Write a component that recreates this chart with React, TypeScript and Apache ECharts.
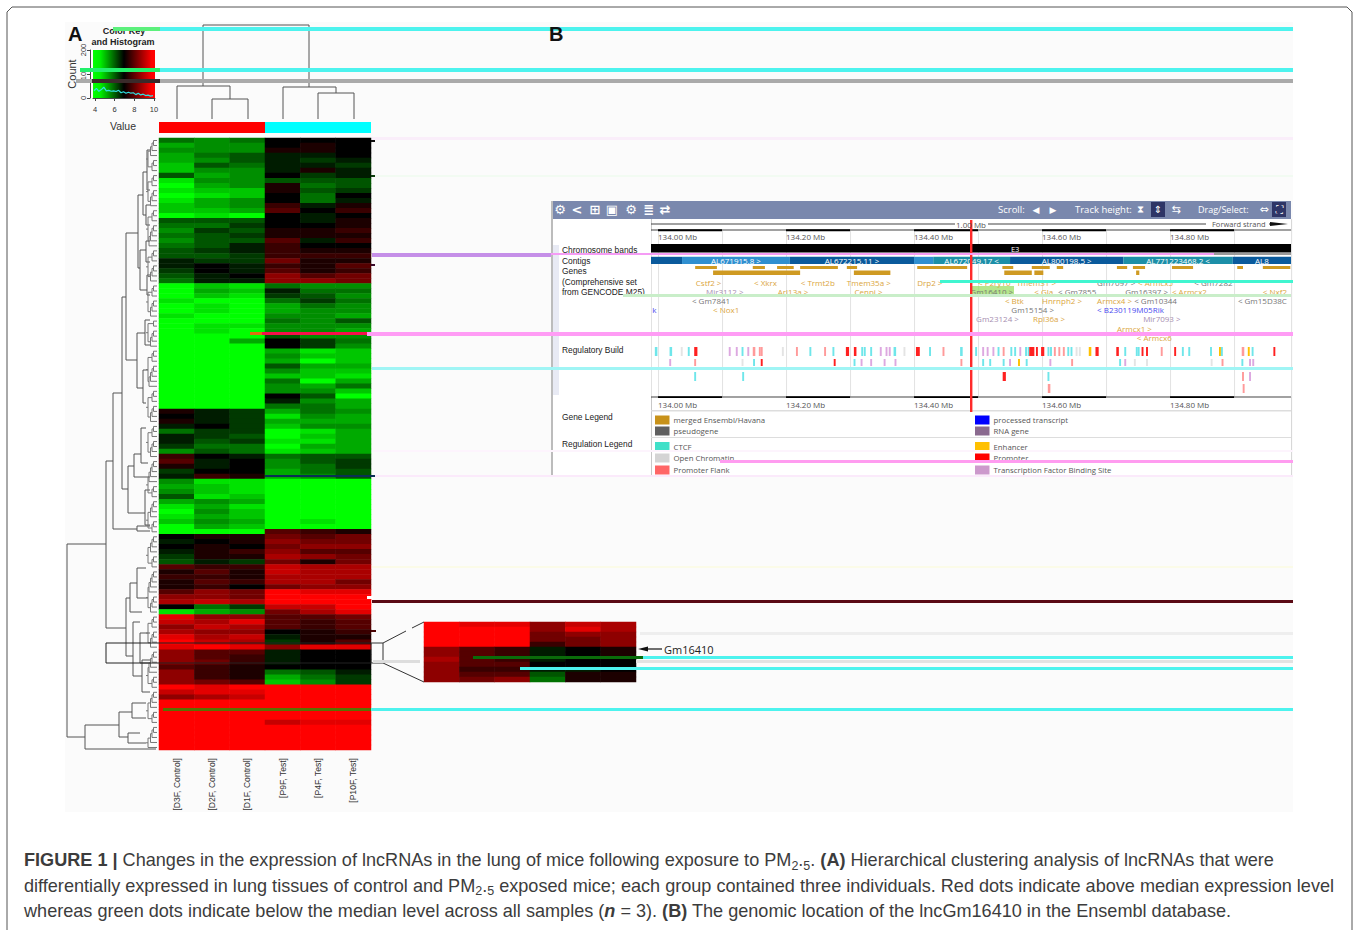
import React, { useEffect, useRef } from "react";
import * as echarts from "echarts";

// ---------- heat map data (scale -9 full green .. 0 black .. +9 full red) ----------
const sampleLabels = ["[D3F, Control]", "[D2F, Control]", "[D1F, Control]", "[P9F, Test]", "[P4F, Test]", "[P10F, Test]"];
const rowsTop = [
  [-4,-5,-4,0,0,0],[-6,-5,-5,0,1,0],[-5,-5,-5,1,1,0],[-6,-4,-3,-1,-1,0],[-6,-5,-3,-1,-2,-1],[-7,-3,-4,-1,-1,-2],
  [-7,-5,-5,-1,1,-1],[-3,-6,-5,0,-2,-1],[-8,-5,-5,-3,-3,-3],[-9,-6,-5,1,-4,-3],[-8,-7,-7,1,-3,-2],[-9,-8,-7,0,-4,0],
  [-8,-6,-5,0,-4,-1],[-7,-6,-5,2,-1,1],[-7,-7,-6,3,0,2],[-9,-8,-9,0,-1,0],[-3,-3,-3,0,-1,1],[-4,-4,-2,0,0,1],
  [-5,-2,-3,1,1,2],[-4,-3,-2,1,1,1],[-5,-3,-3,3,-1,2],[-4,-3,-1,2,0,0],[-3,-2,-1,2,1,1],[-3,-3,-2,2,2,2],
  [-1,-2,-2,4,1,1],[-1,0,-1,2,1,3],[-2,0,-1,3,1,2],[-3,-1,0,5,3,4],[-4,-1,-1,5,5,4],
];
const rowsGreen = [
  [-9,-7,-8,-4,-5,-5],[-9,-6,-7,-1,-4,-4],[-9,-7,-8,-2,-3,-5],[-8,-9,-9,-4,-2,-4],[-9,-8,-9,-6,-4,-5],[-9,-8,-9,-6,-5,-5],
  [-8,-9,-9,-5,-5,-6],[-9,-9,-9,-4,-5,-3],[-9,-8,-8,-5,-5,-5],[-9,-8,-9,-5,-5,-6],[-9,-9,-9,-3,-5,-5],[-9,-9,-6,0,-2,-4],
  [-9,-9,-9,0,-2,-5],[-9,-9,-9,-6,-8,-7],[-9,-9,-9,-5,-7,-7],[-9,-9,-9,-6,-9,-7],[-9,-9,-9,-3,-6,-6],[-9,-9,-9,-5,-7,-7],
  [-9,-9,-9,-7,-7,-8],[-9,-9,-9,-4,-9,-6],[-9,-9,-9,-5,-6,-4],[-9,-9,-9,-5,-5,-7],[-9,-9,-9,0,-3,-9],[-9,-9,-9,-1,-5,-6],
  [-9,-9,-9,-4,-4,-6],
];
const rowsMixed = [
  [1,-1,-2,-6,-4,-5],[0,-1,-2,-8,-5,-6],[1,-1,-2,-6,-6,-6],[-1,0,-2,-7,-5,-5],[-4,-2,-2,-9,-8,-6],[-1,-2,-3,-9,-7,-6],
  [-1,-3,-2,-8,-8,-6],[-2,-4,-4,-9,-6,-6],[-5,-3,-4,-8,-7,-6],[2,0,-1,-4,-3,-3],[3,-1,0,-5,-3,-2],[1,-1,0,-5,-4,-2],
  [-2,0,0,-6,-4,-3],[-1,2,1,-6,-5,-3],[-5,-8,-8,-9,-9,-9],[-6,-7,-8,-9,-9,-9],[-5,-7,-8,-9,-9,-9],[-3,-8,-7,-9,-9,-9],
  [-6,-5,-6,-9,-9,-9],[-8,-6,-8,-9,-9,-9],[-9,-5,-7,-9,-9,-9],[-8,-6,-7,-9,-9,-9],[-7,-5,-6,-9,-8,-9],[-9,-6,-7,-9,-9,-9],
  [-9,-9,-9,3,2,1],
];
const rowsRed = [
  [0,1,1,4,3,4],[-1,0,1,5,4,4],[0,1,0,4,5,5],[-1,1,2,5,3,3],[-2,1,1,6,5,4],[-3,-1,-2,4,1,4],[3,2,2,7,6,6],[1,3,1,7,6,6],
  [2,2,1,6,6,6],[1,3,2,6,6,4],[1,2,0,4,5,5],[3,5,4,9,8,8],[5,5,4,9,9,9],[6,7,6,9,9,9],[0,-4,-2,7,7,9],[-8,-6,-5,4,6,8],
  [8,5,5,3,3,4],[7,6,8,3,2,3],[5,7,6,3,2,3],[6,5,5,0,1,2],[8,6,7,-1,1,1],[9,7,6,-2,1,3],[8,9,8,5,8,8],[5,3,3,-1,0,0],
  [5,3,2,-1,0,0],[5,4,2,-1,0,0],[3,2,1,0,0,0],[5,2,1,-4,-3,-1],[5,2,1,-6,-4,-2],[5,4,3,-7,-5,-2],[9,8,9,9,9,9],[7,8,8,9,9,9],
  [5,6,7,9,9,9],[9,9,9,9,9,9],[9,9,9,9,9,9],[9,9,9,9,9,9],[9,9,9,9,9,9],[9,9,9,7,8,8],[9,9,9,9,9,9],[9,9,9,9,9,9],
  [9,9,9,9,9,9],[9,9,9,9,9,9],[9,9,9,9,9,9],
];
const insetRows = [
  [9,8,8,5,7,6],[9,9,9,5,8,6],[9,9,9,4,5,5],[9,9,9,4,4,5],[9,9,9,2,4,5],[5,3,2,-1,0,1],
  [5,3,2,-1,0,1],[6,3,2,-1,0,0],[5,3,3,0,0,0],[5,2,2,-1,-1,0],[5,3,3,-3,1,1],[5,4,5,-4,1,1],
];
const histX = [3.9,4.15,4.4,4.65,4.9,5.15,5.4,5.65,5.9,6.15,6.4,6.65,6.9,7.15,7.4,7.65,7.9,8.15,8.4,8.65,8.9,9.15,9.4,9.65,9.9];
const histCount = [30,40,28,35,45,30,32,28,30,27,32,22,26,20,24,20,22,14,20,13,16,10,12,8,10];

// ---------- Ensembl data: positions in Mb ----------
const rulerBandStarts = [134.0, 134.2, 134.4, 134.6, 134.8];
const rulerLabels = [134.0, 134.2, 134.4, 134.6, 134.8];
const gridMarks = [133.989, 134.0, 134.1, 134.2, 134.3, 134.4, 134.5, 134.6, 134.7, 134.8, 134.9, 134.989];
const contigs: any[] = [
  [133.989,134.0375,"dark",""],[134.0375,134.206,"light","AL671915.8 >"],[134.206,134.4,"dark","AL672215.11 >"],
  [134.4,134.43,"light",""],[134.43,134.55,"teal","AL672049.17 <"],[134.55,134.727,"dark","AL800198.5 >"],
  [134.727,134.898,"teal","AL771223468.2 <"],[134.898,134.989,"dark","AL8"],
];
const geneTop = [[134.058,134.092],[134.148,134.167],[134.186,134.212],[134.222,134.281],[134.295,134.311],[134.405,134.483],[134.538,134.555],[134.584,134.612],[134.623,134.633],[134.717,134.733],[134.742,134.761],[134.803,134.836],[134.905,134.914],[134.945,134.988]];
const geneLower = [[134.086,134.222],[134.306,134.363],[134.541,134.584],[134.588,134.602],[134.747,134.752]];
const geneLabels: any[] = [
  [134.059,0,"Cstf2 >","gold"],[134.150,0,"< Xkrx","gold"],[134.223,0,"< Trmt2b","gold"],[134.295,0,"Tmem35a >","gold"],[134.405,0,"Drp2 >","gold"],
  [134.500,0,"< P2ry10","gold"],[134.560,0,"Tmem31 >","gold"],[134.686,0,"Gm7097 >","gray"],[134.750,0,"< Armcx5","gold"],[134.838,0,"< Gm7282","gray"],
  [134.075,1,"Mir3112 >","rna"],[134.187,1,"Arl13a >","gold"],[134.307,1,"Cenpi >","gold"],[134.488,1,"Gm16410 >","gray"],[134.588,1,"< Gla","gold"],[134.625,1,"< Gm7855","gray"],[134.730,1,"Gm16397 >","gray"],[134.803,1,"< Armcx2","gold"],[134.945,1,"< Nxf2","gold"],
  [134.053,2,"< Gm7841","gray"],[134.542,2,"< Btk","gold"],[134.600,2,"Hnrnph2 >","gold"],[134.686,2,"Armcx4 >","gold"],[134.744,2,"< Gm10344","gray"],[134.906,2,"< Gm15D38C","gray"],
  [133.991,3,"k","blue"],[134.086,3,"< Nox1","gold"],[134.552,3,"Gm15154 >","gray"],[134.686,3,"< B230119M05Rik","blue"],
  [134.497,4,"Gm23124 >","rna"],[134.586,4,"Rpl36a >","gold"],[134.758,4,"Mir7093 >","rna"],
  [134.717,5,"Armcx1 >","gold"],[134.748,6,"< Armcx6","gold"],
];
const regRow1: any[] = [
  [133.997,"c",4],[134.020,"c",4],[134.037,"o"],[134.048,"c"],[134.059,"p",5],[134.112,"t"],[134.123,"t"],[134.132,"c"],[134.141,"t"],[134.150,"f",4],[134.159,"f"],[134.162,"f"],[134.195,"o"],[134.217,"f"],[134.238,"c"],[134.261,"f"],[134.274,"c"],[134.296,"p",5],[134.308,"p",4],[134.319,"c"],[134.323,"c"],[134.333,"c"],[134.348,"t"],[134.357,"t"],[134.362,"t"],[134.370,"c",4],[134.385,"o"],[134.406,"p",6],[134.425,"c"],
  [134.446,"f"],[134.474,"c",4],[134.497,"c"],[134.508,"t"],[134.515,"t"],[134.524,"t"],[134.532,"c"],[134.540,"f"],[134.552,"c"],[134.558,"c"],[134.566,"t"],[134.575,"c"],[134.579,"c"],[134.584,"p",8],[134.592,"p"],[134.601,"p",5],[134.610,"c"],[134.614,"c"],[134.620,"f"],[134.627,"f"],[134.634,"f"],[134.641,"c"],[134.646,"c"],[134.654,"o"],[134.659,"o"],[134.675,"e",4],[134.686,"p",5],[134.718,"p",4],[134.730,"c"],[134.748,"c"],[134.751,"c"],[134.757,"p"],[134.764,"p"],[134.787,"f"],[134.808,"p",3],[134.820,"c"],[134.830,"c"],[134.864,"c"],[134.878,"e"],[134.881,"c"],[134.914,"f",4],[134.923,"e"],[134.929,"c"],[134.963,"p"],
];
const regRow2: any[] = [
  [134.019,"t"],[134.058,"f"],[134.132,"o"],[134.150,"c"],[134.162,"p"],[134.276,"p"],[134.307,"c"],[134.318,"t"],[134.333,"t"],[134.354,"t"],[134.371,"t"],[134.474,"f"],[134.508,"c"],[134.519,"c"],[134.540,"c"],[134.550,"t"],[134.564,"e"],[134.576,"c"],[134.613,"t"],[134.647,"f"],[134.722,"c"],[134.730,"t"],[134.745,"o"],[134.764,"o"],[134.865,"o"],[134.882,"f"],[134.913,"c"],[134.925,"t"],[134.930,"t"],
];
const regRow3: any[] = [[134.058,"c"],[134.133,"c"],[134.541,"p",5],[134.610,"c"],[134.914,"f",3],[134.925,"t",3]];
const regRow4: any[] = [[134.611,"f",4],[134.915,"f"]];

// ---------- dendrogram descriptions ----------
const leafClusterSizes = [4,3,3,4,3,5,3,4,3,4,2,4,3,5,3,4,3,4,5,3,4,3,4,3,5,4,3,4,5,3,4,3,4,1];
const rowBrackets = [
  [67,544,737,106,85],[85,725,749,119,156],[119,712,737,132,128],[132,703,718,146,146],[128,733,743,140,146],
  [106,461,628,113,126],[113,393,529,122,137],[137,526,531,150,150],[122,297,489,126,128],[126,233,360,138,137],
  [138,195,268,143,140],[143,172,215,147,146],[147,150,190,150,150],[146,205,225,150,150],[140,250,290,146,147],
  [146,241,262,150,150],[147,275,295,150,150],[137,333,388,145,143],[145,320,345,150,150],[143,370,403,148,146],
  [128,466,513,134,145],[134,454,477,141,150],[141,428,463,146,148],[145,490,525,150,150],[126,598,656,130,133],
  [130,583,612,137,142],[137,568,598,146,148],[133,622,676,140,142],[140,633,663,150,150],[142,660,692,150,150],
];
const colBrackets = [
  [25,203,309,86,87],[86,177,230,119,99],[99,212,248,119,119],[87,283,336,119,93],[93,318,354,119,119],
];
const streaks: any[] = [
  [113,160,27,4,"#5cf07c"],[160,1293,27,4,"#4df3ee"],[80,160,68,4,"#22f06a"],[160,1293,68,4,"#4df3ee"],[76,92,79,4,"#aaaaaa"],[92,160,79,4,"#3a2a2a"],[160,1293,79,4,"#aaaaaa"],
  [372,1293,137,3,"#faeefa"],[372,1293,175,2,"#f2fbf2"],[372,551,253,4,"#c58fe8"],[551,1214,253,2,"#f59cf5"],[1214,1291,253,2,"#9a9a9a"],
  [623,1291,294,3,"#c9eec9"],[940,1293,280,3,"#40f5d0"],[250,262,332,3,"#e07010"],[262,367,332,3,"#f5104a"],[367,1293,332,4,"#ff9cf5"],
  [372,1293,367,3,"#a0f5f5"],[720,1293,460,3,"#ff9cf0"],[372,1293,475,2,"#fbeafb"],[372,1293,450,2,"#fdf4fd"],[372,1293,566,2,"#fbfbe8"],
  [372,1293,600,3,"#5a0a14"],[640,1293,632,3,"#eeeeee"],[373,420,660,3,"#dddddd"],[636,1293,660,3,"#e2e2e2"],
  [473,643,656,3,"#0a6b0a"],[643,1293,656,3,"#4df3ee"],[520,1293,667,3,"#4df3ee"],[163,371,708,3,"#5a7000"],[371,1293,708,3,"#4df3ee"],
  [265,375,475,2,"#0a2f55"],[371,375,140,2,"#111111"],[371,375,175,2,"#0c3d0c"],[371,375,264,2,"#3a0a2a"],[371,376,630,2,"#4a0505"],[367,373,596,3,"#ffffff"],
];

const rowH = 612 / 122;
const hmData = (rows: number[][]) => rows.flatMap((r, y) => r.map((v, x) => [x, y, v]));

function treeSegments() {
  const seg: any[] = [];
  const gap = [NaN, NaN];
  const push = (...pts: number[][]) => { seg.push(...pts, gap); };
  rowBrackets.forEach(([x, y1, y2, e1, e2]) => push([e1, y1], [x, y1], [x, y2], [e2, y2]));
  colBrackets.forEach(([y, x1, x2, e1, e2]) => push([x1, e1], [x1, y], [x2, y], [x2, e2]));
  return seg;
}
function leafSegments() {
  const seg: any[] = [];
  const gap = [NaN, NaN];
  let idx = 0;
  const stems: number[] = [];
  leafClusterSizes.forEach((n) => {
    let yc = 138 + rowH * (idx + 0.5);
    let px = 157;
    seg.push([157, yc], [153.5, yc], gap);
    for (let j = 1; j < n; j++) {
      const y = 138 + rowH * (idx + j + 0.5);
      const x = 153.5 - (j - 1) * 1.5;
      seg.push([157, y], [x, y], [x, yc], gap);
      seg.push([x, yc], [Math.min(px, 153.5), yc], gap);
      yc = (yc + y) / 2;
      px = x;
    }
    seg.push([px, yc], [148, yc], gap);
    stems.push(yc);
    idx += n;
  });
  for (let i = 0; i + 1 < stems.length; i += 2) {
    seg.push([148, stems[i]], [148, stems[i + 1]], gap);
    seg.push([148, (stems[i] + stems[i + 1]) / 2], [146, (stems[i] + stems[i + 1]) / 2], gap);
  }
  return seg;
}

const regColors: any = { c: "#6fe6ea", o: "#e4e4e4", f: "#ff9a9a", p: "#ff2020", t: "#dda8e0", e: "#ffc000" };
const contigColors: any = { dark: "#0a5a9c", light: "#2f8fd0", teal: "#1c8fa8" };
const labelColors: any = { gold: "#dba63e", gray: "#777777", rna: "#a68eb0", blue: "#4a4af0" };
const labelRowY = [282, 291, 300, 309, 318, 328, 337];
const sansUI = '"Open Sans", "Noto Sans", sans-serif';
const helv = '"Liberation Sans", Arial, sans-serif';

function txt(text: string, x: number, y: number, size = 8, fill = "#333", extra: any = {}, family = helv) {
  return { type: "text", x, y, z: extra.z || 40, rotation: extra.rotation || 0, style: { text, fill, fontSize: size, fontFamily: family, fontWeight: extra.weight || "normal", align: extra.align || "left", verticalAlign: "middle" } };
}
function box(x: number, y: number, w: number, h: number, fill: string, z = 1) {
  return { type: "rect", z, shape: { x, y, width: w, height: h }, style: { fill } };
}

const capBase = { fontSize: 18.1, fontFamily: helv, fill: "#3c3c3c", lineHeight: 24 };
const capRich: any = {
  b: { ...capBase, fontWeight: "bold" },
  i: { ...capBase, fontWeight: "bold", fontStyle: "italic" },
  s: { ...capBase, fontSize: 12.5, verticalAlign: "bottom", lineHeight: 24 },
};
const captionLines = [
  "{b|FIGURE 1 |} Changes in the expression of lncRNAs in the lung of mice following exposure to PM{s|2}.{s|5}. {b|(A)} Hierarchical clustering analysis of lncRNAs that were",
  "differentially expressed in lung tissues of control and PM{s|2}.{s|5} exposed mice; each group contained three individuals. Red dots indicate above median expression level",
  "whereas green dots indicate below the median level across all samples ({i|n} = 3). {b|(B)} The genomic location of the lncGm16410 in the Ensembl database.",
];

function buildGraphics() {
  const els: any[] = [];
  // page frame and panels
  els.push({ type: "polyline", z: 0, shape: { points: [[7, 930], [7, 12], [12, 7], [1347, 7], [1352, 12], [1352, 930]] }, style: { stroke: "#555", lineWidth: 1, fill: "none" } });
  els.push(box(65, 22, 1228, 790, "#fbfbfb", 0));
  // colour key
  els.push({ type: "rect", z: 1, shape: { x: 93, y: 50, width: 62, height: 48 }, style: { fill: new echarts.graphic.LinearGradient(0, 0, 1, 0, [{ offset: 0, color: "#00ff00" }, { offset: 0.12, color: "#00ee00" }, { offset: 0.5, color: "#000000" }, { offset: 0.95, color: "#ff0000" }, { offset: 1, color: "#ff0000" }]) } });
  els.push(txt("Color Key", 124, 31, 9, "#222", { weight: "bold", align: "center" }));
  els.push(txt("and Histogram", 123, 42, 9, "#222", { weight: "bold", align: "center" }));
  els.push(txt("Count", 72, 74, 11, "#333", { rotation: Math.PI / 2, align: "center" }));
  els.push(txt("Value", 123, 126, 10.5, "#333", { align: "center" }));
  els.push(box(159, 122, 106, 11, "#ff0000"));
  els.push(box(265, 122, 106, 11, "#00ffff"));
  els.push(txt("A", 68, 34, 20, "#111", { weight: "bold", z: 65 }));
  els.push(txt("B", 549, 34, 20, "#111", { weight: "bold", z: 65 }));

  // Ensembl panel
  els.push(box(551, 219, 740, 257, "#ffffff"));
  els.push(box(551, 201, 740, 18, "#7a88ad", 2));
  els.push(box(551, 201, 2, 275, "#bcbcbc", 3));
  els.push(box(553, 245, 6, 150, "#e8eaf4", 2));
  els.push(box(651, 219, 1, 257, "#c8c8c8", 3));
  els.push(box(1291, 219, 1, 257, "#d8d8d8", 3));
  els.push(box(651, 410, 640, 1.5, "#dddddd", 3));
  els.push(box(651, 437, 640, 1, "#dddddd", 3));
  ["⚙", "<", "⊞", "▣", "⚙", "≣", "⇄"].forEach((g, i) => {
    els.push(txt(g, 560 + [0, 17, 35, 52, 71, 89, 105][i], 209.5, 13, "#ffffff", { align: "center", weight: "bold" }, '"DejaVu Sans"'));
  });
  els.push(txt("Scroll:", 998, 209.5, 9.5, "#ffffff", {}, sansUI));
  els.push(txt("◀", 1036, 209.5, 9, "#ffffff", { align: "center" }, '"DejaVu Sans"'));
  els.push(txt("▶", 1053, 209.5, 9, "#ffffff", { align: "center" }, '"DejaVu Sans"'));
  els.push(txt("Track height:", 1075, 209.5, 9.5, "#ffffff", {}, sansUI));
  els.push(txt("⧗", 1140, 209.5, 10, "#ffffff", { align: "center" }, '"DejaVu Sans"'));
  els.push(box(1151, 202, 14, 15, "#2e3566", 3));
  els.push(txt("⇕", 1158, 209.5, 10, "#ffffff", { align: "center" }, '"DejaVu Sans"'));
  els.push(txt("⇆", 1176, 209.5, 11, "#ffffff", { align: "center" }, '"DejaVu Sans"'));
  els.push(txt("Drag/Select:", 1198, 209.5, 9, "#ffffff", {}, sansUI));
  els.push(txt("⇔", 1264, 209.5, 11, "#ffffff", { align: "center" }, '"DejaVu Sans"'));
  els.push(box(1272, 202, 14, 15, "#2e3566", 3));
  els.push(txt("⛶", 1279, 209.5, 10, "#ffffff", { align: "center" }, '"DejaVu Sans"'));
  // scale bar
  els.push(box(651, 223.5, 304, 1, "#444", 3));
  els.push(box(988, 223.5, 218, 1, "#444", 3));
  els.push(txt("1.00 Mb", 971, 224, 8, "#555", { align: "center" }, sansUI));
  els.push(txt("Forward strand", 1212, 224, 7.5, "#555", {}, sansUI));
  els.push(box(1269, 223.5, 8, 1, "#222", 3));
  els.push({ type: "polygon", z: 3, shape: { points: [[1270, 222], [1288, 224], [1270, 226]] }, style: { fill: "#111" } });
  // track labels
  const trackLabels: any[] = [["Chromosome bands", 250], ["Contigs", 260.5], ["Genes", 271], ["(Comprehensive set", 281.5], ["from GENCODE M25)", 292], ["Regulatory Build", 350], ["Gene Legend", 417], ["Regulation Legend", 444]];
  trackLabels.forEach(([t, y]) => els.push(txt(t, 562, y, 8.4, "#222")));
  // legends
  const legends: any[] = [
    [655, 420, "#c8921a", "merged Ensembl/Havana"], [655, 431, "#606060", "pseudogene"],
    [655, 446.5, "#40e0c8", "CTCF"], [655, 458, "#d4d4d4", "Open Chromatin"], [655, 470, "#ff6666", "Promoter Flank"],
    [975, 420, "#0000ff", "processed transcript"], [975, 431, "#8a6a8f", "RNA gene"],
    [975, 446.5, "#ffc000", "Enhancer"], [975, 458, "#ff0000", "Promoter"], [975, 470, "#cc99cc", "Transcription Factor Binding Site"],
  ];
  legends.forEach(([x, y, c, t]) => {
    els.push(box(x, y - 4.5, 14.5, 9, c, 3));
    els.push(txt(t, x + 18.5, y, 7.8, "#555", {}, sansUI));
  });
  // red position line
  els.push(box(970, 220, 2.4, 192, "#ff2a2a", 30));
  els.push(box(971, 286, 43, 9, "rgba(150,220,90,0.7)", 4));

  // zoom lines
  els.push({ type: "rect", z: 45, shape: { x: 106, y: 643, width: 265, height: 20 }, style: { fill: "none", stroke: "#222", lineWidth: 1 } });
  [[[371, 643], [383, 643], [383, 663], [371, 663]], [[383, 643], [406, 631]], [[412, 628], [424, 622]], [[383, 663], [424, 682]]].forEach((points) =>
    els.push({ type: "polyline", z: 45, shape: { points }, style: { stroke: "#333", lineWidth: 1, fill: "none" } })
  );
  els.push({ type: "polyline", z: 46, shape: { points: [[662, 649], [644, 649]] }, style: { stroke: "#111", lineWidth: 1.2, fill: "none" } });
  els.push({ type: "polygon", z: 46, shape: { points: [[638, 649], [648, 646.5], [648, 651.5]] }, style: { fill: "#111" } });
  els.push(txt("Gm16410", 664, 649, 11, "#222", {}, sansUI));

  // streaks
  streaks.forEach(([x1, x2, y, h, c]) => els.push(box(x1, y, x2 - x1, h, c, 60)));

  // caption
  captionLines.forEach((line, i) => {
    els.push({ type: "text", z: 70, x: 24, y: 860 + i * 25.6, style: { text: line, rich: capRich, ...capBase, verticalAlign: "middle" } });
  });
  return els;
}

export default function App() {
  const ref = useRef<HTMLDivElement>(null);
  useEffect(() => {
    const chart = echarts.init(ref.current!, undefined, { renderer: "svg" });
    const allRows = [...rowsTop, ...rowsGreen, ...rowsMixed, ...rowsRed];
    const idx = (n: number) => Array.from({ length: n }, (_, i) => String(i));
    const hidden = { show: false };
    const bandCoord = (api: any, a: number, b: number, y0: number, y1: number) => {
      const p0 = api.coord([a, y0]);
      const p1 = api.coord([b, y1]);
      return { x: p0[0], y: p0[1], width: p1[0] - p0[0], height: p1[1] - p0[1] };
    };
    chart.setOption({
      animation: false,
      backgroundColor: "#ffffff",
      graphic: { elements: buildGraphics() },
      visualMap: { show: false, min: -9, max: 9, seriesIndex: [0, 1], inRange: { color: ["#00ff00", "#000000", "#ff0000"] } },
      grid: [
        { left: 159, top: 138, width: 212, height: 612 },
        { left: 424, top: 622, width: 212, height: 60 },
        { left: 651, top: 229, width: 640, height: 169 },
        { left: 93, top: 50, width: 62, height: 48 },
        { left: 0, top: 0, width: 1360, height: 930 },
      ],
      xAxis: [
        { gridIndex: 0, type: "category", data: sampleLabels, axisLine: hidden, axisTick: hidden, axisLabel: { rotate: 90, interval: 0, fontSize: 8.6, margin: 8, color: "#333", fontFamily: helv, padding: [0, 0, 4, 0] } },
        { gridIndex: 1, type: "category", data: sampleLabels, show: false },
        { gridIndex: 2, type: "value", z: 10, min: 133.989, max: 134.989, position: "bottom", axisLine: hidden, axisTick: hidden, splitLine: hidden, axisLabel: { customValues: rulerLabels, align: "left", margin: 2, fontSize: 8, color: "#555", fontFamily: sansUI, formatter: (v: number) => v.toFixed(2) + " Mb" } },
        { gridIndex: 3, type: "value", min: 3.8, max: 10.1, offset: 3, axisLine: { lineStyle: { color: "#444" } }, axisTick: { customValues: [4, 6, 8, 10], length: 3, lineStyle: { color: "#444" } }, splitLine: hidden, axisLabel: { customValues: [4, 6, 8, 10], fontSize: 7.5, margin: 4, color: "#333", fontFamily: helv } },
        { gridIndex: 4, type: "value", min: 0, max: 1360, show: false },
        { gridIndex: 2, type: "value", z: 10, min: 133.989, max: 134.989, position: "top", axisLine: hidden, axisTick: hidden, splitLine: hidden, axisLabel: { customValues: rulerLabels, inside: true, align: "left", margin: 3, fontSize: 8, color: "#555", fontFamily: sansUI, formatter: (v: number) => v.toFixed(2) + " Mb" } },
      ],
      yAxis: [
        { gridIndex: 0, type: "category", inverse: true, data: idx(allRows.length), show: false },
        { gridIndex: 1, type: "category", inverse: true, data: idx(insetRows.length), show: false },
        { gridIndex: 2, type: "value", inverse: true, min: 229, max: 398, show: false },
        { gridIndex: 3, type: "value", min: 0, max: 200, offset: 3, axisLine: { lineStyle: { color: "#444" } }, axisTick: { customValues: [0, 100, 200], length: 3, lineStyle: { color: "#444" } }, splitLine: hidden, axisLabel: { customValues: [0, 100, 200], rotate: 90, fontSize: 7.5, margin: 3, color: "#333", fontFamily: helv } },
        { gridIndex: 4, type: "value", inverse: true, min: 0, max: 930, show: false },
      ],
      series: [
        { type: "heatmap", xAxisIndex: 0, yAxisIndex: 0, data: hmData(allRows), silent: true, progressive: 0, itemStyle: { borderWidth: 0 } },
        { type: "heatmap", xAxisIndex: 1, yAxisIndex: 1, data: hmData(insetRows), silent: true, progressive: 0, itemStyle: { borderWidth: 0 } },
        { type: "line", xAxisIndex: 3, yAxisIndex: 3, data: histX.map((x, i) => [x, histCount[i]]), showSymbol: false, lineStyle: { color: "#30e0e0", width: 1.2 }, silent: true },
        { type: "line", xAxisIndex: 4, yAxisIndex: 4, data: treeSegments(), showSymbol: false, connectNulls: false, silent: true, lineStyle: { color: "#555", width: 1 } },
        { type: "line", xAxisIndex: 4, yAxisIndex: 4, data: leafSegments(), showSymbol: false, connectNulls: false, silent: true, lineStyle: { color: "#777", width: 1 } },
        // Ensembl tracks
        { type: "custom", xAxisIndex: 2, yAxisIndex: 2, silent: true, z: 3, data: gridMarks.map((m) => [m]), renderItem: (_: any, api: any) => ({ type: "rect", shape: bandCoord(api, api.value(0), api.value(0) + 0.0016, 231, 397), style: { fill: "#e2e2e2" } }) },
        { type: "custom", xAxisIndex: 2, yAxisIndex: 2, silent: true, z: 4, data: [[133.989, 134.989]], renderItem: (_: any, api: any) => ({ type: "group", children: [
          { type: "rect", shape: bandCoord(api, api.value(0), api.value(1), 229.6, 230.4), style: { fill: "#444" } },
          { type: "rect", shape: bandCoord(api, api.value(0), api.value(1), 396.6, 397.4), style: { fill: "#444" } },
          { type: "rect", shape: bandCoord(api, api.value(0), api.value(1), 244, 252.5), style: { fill: "#000" } },
          { type: "text", style: { x: api.coord([134.558, 0])[0], y: api.coord([134, 248.5])[1], text: "E3", fill: "#fff", fontSize: 7.5, fontFamily: sansUI, align: "center", verticalAlign: "middle" } },
        ] }) },
        { type: "custom", xAxisIndex: 2, yAxisIndex: 2, silent: true, z: 5, data: rulerBandStarts.map((m) => [m]), renderItem: (_: any, api: any) => ({ type: "group", children: [
          { type: "rect", shape: bandCoord(api, api.value(0), api.value(0) + 0.1, 229.3, 231.2), style: { fill: "#000" } },
          { type: "rect", shape: bandCoord(api, api.value(0), api.value(0) + 0.1, 396.2, 398), style: { fill: "#000" } },
        ] }) },
        { type: "custom", xAxisIndex: 2, yAxisIndex: 2, silent: true, z: 5, data: contigs, dimensions: [{ name: "a", type: "number" }, { name: "b", type: "number" }, { name: "k", type: "ordinal" }, { name: "t", type: "ordinal" }], encode: { x: [0, 1] }, renderItem: (p: any, api: any) => {
          const c = contigs[p.dataIndex];
          const s = bandCoord(api, c[0], c[1], 256.8, 264);
          return { type: "group", children: [
            { type: "rect", shape: s, style: { fill: contigColors[c[2]] } },
            { type: "text", style: { x: s.x + s.width / 2, y: s.y + s.height / 2, text: c[3], fill: "#fff", fontSize: 8, fontFamily: sansUI, align: "center", verticalAlign: "middle" } },
          ] };
        } },
        { type: "custom", xAxisIndex: 2, yAxisIndex: 2, silent: true, z: 5, data: geneTop, renderItem: (_: any, api: any) => ({ type: "rect", shape: bandCoord(api, api.value(0), api.value(1), 266, 269), style: { fill: "#cf9a22" } }) },
        { type: "custom", xAxisIndex: 2, yAxisIndex: 2, silent: true, z: 5, data: geneLower, renderItem: (_: any, api: any) => ({ type: "rect", shape: bandCoord(api, api.value(0), api.value(1), 270.5, 275), style: { fill: "#cf9a22" } }) },
        { type: "custom", xAxisIndex: 2, yAxisIndex: 2, silent: true, z: 6, data: geneLabels, dimensions: [{ name: "a", type: "number" }, { name: "r", type: "number" }, { name: "t", type: "ordinal" }, { name: "k", type: "ordinal" }], encode: { x: 0 }, renderItem: (p: any, api: any) => {
          const g = geneLabels[p.dataIndex];
          const pt = api.coord([g[0], labelRowY[g[1]]]);
          return { type: "text", style: { x: pt[0], y: pt[1], text: g[2], fill: labelColors[g[3]], fontSize: 8, fontFamily: sansUI, align: "left", verticalAlign: "middle" } };
        } },
        ...[[regRow1, 347, 356], [regRow2, 359, 366], [regRow3, 372, 381], [regRow4, 384, 393]].map(([rows, y0, y1]: any) => ({
          type: "custom", xAxisIndex: 2, yAxisIndex: 2, silent: true, z: 5, data: rows,
          dimensions: [{ name: "a", type: "number" }, { name: "k", type: "ordinal" }, { name: "w", type: "number" }], encode: { x: 0 },
          renderItem: (p: any, api: any) => {
            const r = rows[p.dataIndex];
            const w = (r[2] || 3) / 1000;
            return { type: "rect", shape: bandCoord(api, r[0] - w / 2, r[0] + w / 2, y0, y1), style: { fill: regColors[r[1]] } };
          },
        })),
      ],
    });
    return () => chart.dispose();
  }, []);
  return <div ref={ref} style={{ position: "absolute", left: 0, top: 0, width: 1360, height: 930 }} />;
}
